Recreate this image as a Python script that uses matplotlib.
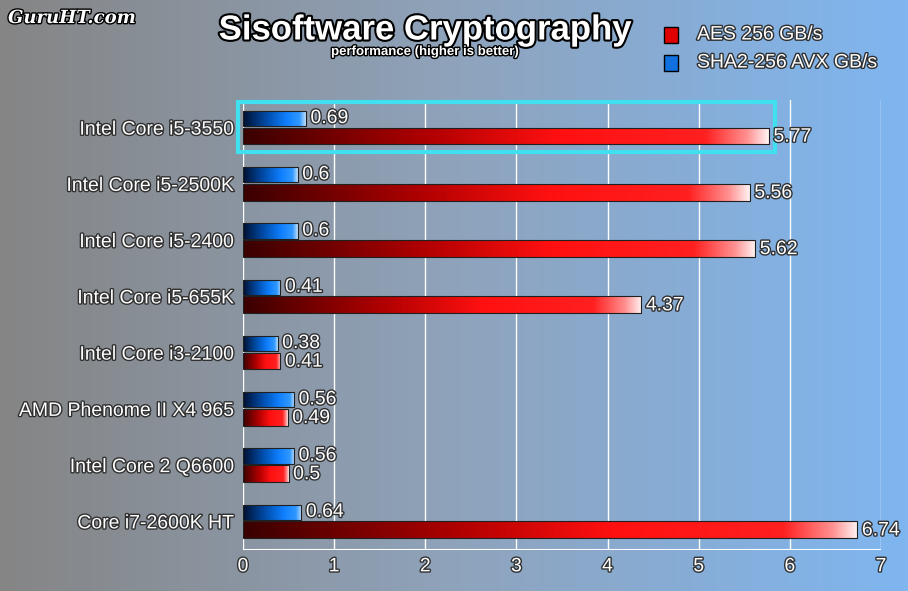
import numpy as np
import matplotlib
matplotlib.use("Agg")
import matplotlib.pyplot as plt
import matplotlib.patheffects as pe
from matplotlib.colors import LinearSegmentedColormap
from matplotlib.patches import Rectangle

plt.rcParams['font.family'] = ['Liberation Sans', 'DejaVu Sans']

categories = ["Intel Core i5-3550", "Intel Core i5-2500K", "Intel Core i5-2400",
              "Intel Core i5-655K", "Intel Core i3-2100", "AMD Phenome II X4 965",
              "Intel Core 2 Q6600", "Core i7-2600K HT"]
aes = [5.77, 5.56, 5.62, 4.37, 0.41, 0.49, 0.5, 6.74]
sha = [0.69, 0.6, 0.6, 0.41, 0.38, 0.56, 0.56, 0.64]

fig = plt.figure(figsize=(9.08, 5.91), dpi=100)
bg = fig.add_axes([0, 0, 1, 1], zorder=-10)
bgcmap = LinearSegmentedColormap.from_list("bg", ["#858585", "#8fa3bb", "#7fb6f0"])
bg.imshow(np.linspace(0, 1, 256)[None, :], aspect="auto", cmap=bgcmap, extent=[0, 1, 0, 1])
bg.axis("off")

ax = fig.add_axes([243/908, 1-550/591, (881-243)/908, (550-100)/591])
ax.patch.set_alpha(0)
n = len(categories)
ax.set_xlim(0, 7)
for x in range(8):
    ax.axvline(x, color="white", lw=1, zorder=0)
ax.axhline(n - 0.5, color="white", lw=1.5)
for s in ax.spines.values():
    s.set_visible(False)

redc = LinearSegmentedColormap.from_list("r", [(0, "#3a0000"), (0.35, "#b00000"), (0.6, "#ff1010"),
                                               (0.88, "#ff2020"), (0.96, "#ff9090"), (1, "#fff0f0")])
bluec = LinearSegmentedColormap.from_list("b", [(0, "#001030"), (0.4, "#0050b0"), (0.7, "#1080ff"),
                                                (0.9, "#3098ff"), (1, "#c0e0ff")])
grad = np.linspace(0, 1, 256)[None, :]

def gbar(y, w, h, cmap):
    r = Rectangle((0, y - h/2), w, h, facecolor="none", edgecolor="#202020", lw=0.8, zorder=3)
    ax.add_patch(r)
    im = ax.imshow(grad, aspect="auto", cmap=cmap, extent=[0, w, y + h/2, y - h/2], zorder=2)
    im.set_clip_path(r)

fx = [pe.withStroke(linewidth=2, foreground="#303030")]
for i in range(n):
    gbar(i - 0.17, sha[i], 0.27, bluec)
    gbar(i + 0.14, aes[i], 0.30, redc)
    ax.text(sha[i] + 0.05, i - 0.17, f"{sha[i]:g}", va="center", color="white", fontsize=14, path_effects=fx, zorder=5)
    ax.text(aes[i] + 0.05, i + 0.16, f"{aes[i]:g}", va="center", color="white", fontsize=14, path_effects=fx, zorder=5)

ax.add_patch(Rectangle((-0.06, -0.47), 5.9, 0.9, fill=False, edgecolor="#40e0f0", lw=3, zorder=4, clip_on=False))
ax.set_xticks(range(8))
ax.set_yticks(range(n))
ax.set_yticklabels(categories)
ax.tick_params(length=0, labelsize=14, colors="white", pad=6)
for t in ax.get_xticklabels() + ax.get_yticklabels():
    t.set_path_effects(fx)
ax.set_ylim(n - 0.5, -0.5)

fig.text(425/908, 1-30/591, "Sisoftware Cryptography", ha="center", va="center", fontsize=25,
         fontweight="bold", color="white", path_effects=[pe.withStroke(linewidth=3, foreground="black")])
fig.text(425/908, 1-52/591, "performance (higher is better)", ha="center", va="center", fontsize=9.5,
         fontweight="bold", color="white", path_effects=[pe.withStroke(linewidth=2, foreground="black")])
fig.text(8/908, 1-18/591, "GuruHT.com", ha="left", va="center", fontsize=13, fontweight="bold",
         style="italic", family="DejaVu Serif", color="white", path_effects=[pe.withStroke(linewidth=2, foreground="black")])

for yy, col, lab in [(35, "#e00000", "AES 256 GB/s"), (63, "#1070e0", "SHA2-256 AVX GB/s")]:
    fig.patches.append(Rectangle((664/908, 1-(yy+8)/591), 14/908, 16/591, transform=fig.transFigure,
                                 facecolor=col, edgecolor="black", lw=1))
    fig.text(697/908, 1-yy/591, lab, ha="left", va="center", fontsize=14, color="white", path_effects=fx)

fig.savefig("out.png", dpi=100)
